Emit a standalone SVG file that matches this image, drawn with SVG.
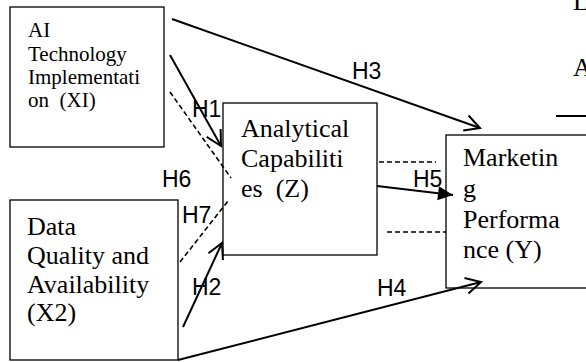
<svg xmlns="http://www.w3.org/2000/svg" width="586" height="362" viewBox="0 0 586 362">
<style>
.box{fill:#fff;stroke:#000;stroke-width:1.3}
.t{font-family:"Liberation Serif","Times New Roman",serif;fill:#000}
.lbl{font-family:"Liberation Sans",Arial,sans-serif;font-size:23px;fill:#000}
.ln{fill:none;stroke:#000;stroke-width:2}
.dash{fill:none;stroke:#000;stroke-width:1.6;stroke-dasharray:5 3}
</style>
<defs>
<marker id="open" viewBox="-17 -10 19 20" refX="0" refY="0" markerWidth="19" markerHeight="20" markerUnits="userSpaceOnUse" orient="auto">
<path d="M-15,-8 L0,0 L-15,8" fill="none" stroke="#000" stroke-width="2"/>
</marker>
<marker id="fill" viewBox="-16 -8 17 16" refX="0" refY="0" markerWidth="17" markerHeight="16" markerUnits="userSpaceOnUse" orient="auto">
<path d="M-15,-7 L0,0 L-15,7 Z" fill="#000"/>
</marker>
</defs>
<rect width="586" height="362" fill="#fff"/>

<g id="x1">
<rect class="box" x="10" y="7" width="154" height="140"/>
<text class="t" font-size="21"><tspan x="28" y="37">AI</tspan><tspan x="28" y="61">Technology</tspan><tspan x="28" y="84">Implementati</tspan><tspan x="28" y="107">on&#160; (XI)</tspan></text>
</g>

<g id="x2">
<rect class="box" x="10" y="200" width="168" height="160"/>
<text class="t" font-size="26"><tspan x="27" y="235">Data</tspan><tspan x="27" y="264">Quality and</tspan><tspan x="27" y="293">Availability</tspan><tspan x="27" y="321">(X2)</tspan></text>
</g>

<g id="z">
<rect class="box" x="223" y="103" width="154" height="152"/>
<text class="t" font-size="26"><tspan x="241" y="137">Analytical</tspan><tspan x="241" y="167">Capabiliti</tspan><tspan x="241" y="197">es&#160; (Z)</tspan></text>
</g>

<g id="y">
<rect class="box" x="446" y="135" width="160" height="153"/>
<text class="t" font-size="26"><tspan x="463" y="166">Marketin</tspan><tspan x="463" y="197">g</tspan><tspan x="463" y="228">Performa</tspan><tspan x="463" y="258">nce (Y)</tspan></text>
</g>

<g id="cutoff">
<text class="t" font-size="26" x="573" y="10">L</text>
<text class="t" font-size="26" x="573" y="76">A</text>
<line x1="556" y1="116" x2="590" y2="116" stroke="#000" stroke-width="2"/>
</g>

<g id="connectors">
<line class="ln" x1="172" y1="19" x2="480" y2="128" marker-end="url(#open)"/>
<line class="ln" x1="170" y1="55" x2="221" y2="146" marker-end="url(#open)"/>
<line class="ln" x1="183" y1="327" x2="222" y2="243" marker-end="url(#open)"/>
<line class="ln" x1="178" y1="360" x2="481" y2="282" marker-end="url(#open)"/>
<line class="ln" x1="377" y1="186" x2="453" y2="195" marker-end="url(#fill)"/>
<line class="dash" x1="170" y1="92" x2="231" y2="178"/>
<line class="dash" x1="180" y1="262" x2="228" y2="201"/>
<line class="dash" x1="379" y1="162" x2="436" y2="162"/>
<line class="dash" x1="387" y1="232" x2="446" y2="232"/>
</g>

<g id="labels">
<text class="lbl" x="352" y="79">H3</text>
<text class="lbl" x="192" y="117">H1</text>
<text class="lbl" x="162" y="187">H6</text>
<text class="lbl" x="182" y="223">H7</text>
<text class="lbl" x="192" y="295">H2</text>
<text class="lbl" x="377" y="296">H4</text>
<text class="lbl" x="413" y="187">H5</text>
</g>
</svg>
